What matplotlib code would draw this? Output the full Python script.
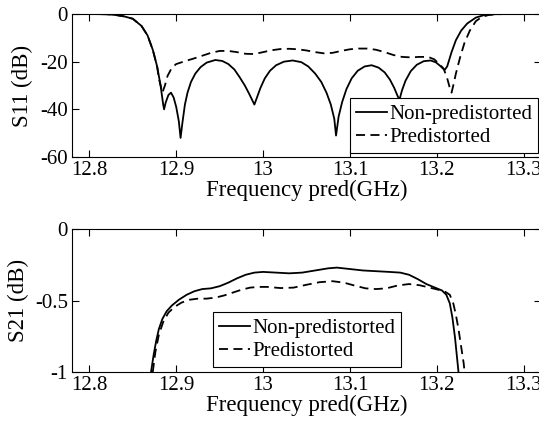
import matplotlib
matplotlib.use('Agg')
from matplotlib import pyplot as plt

plt.rcParams['font.family'] = ['Liberation Serif', 'DejaVu Serif']

# S11, non-predistorted (solid)
s11_np_freq = [12.78, 12.80, 12.82, 12.83, 12.84, 12.85, 12.86, 12.867, 12.873, 12.878,
               12.882, 12.885, 12.886, 12.888, 12.891, 12.894, 12.897, 12.900, 12.903, 12.905,
               12.907, 12.910, 12.913, 12.917, 12.922, 12.928, 12.935, 12.945, 12.953, 12.960,
               12.967, 12.973, 12.979, 12.984, 12.988, 12.990, 12.993, 12.997, 13.002, 13.008,
               13.015, 13.024, 13.034, 13.044, 13.052, 13.060, 13.067, 13.073, 13.078, 13.082,
               13.084, 13.087, 13.091, 13.096, 13.102, 13.109, 13.117, 13.125, 13.133, 13.140,
               13.146, 13.151, 13.155, 13.157, 13.160, 13.164, 13.170, 13.177, 13.185, 13.193,
               13.199, 13.204, 13.209, 13.212, 13.217, 13.222, 13.228, 13.235, 13.245, 13.255,
               13.265, 13.28, 13.33]
s11_np_db = [0, 0, -0.1, -0.4, -1, -2, -5, -9, -15, -22,
             -30, -38, -40, -37, -34, -33, -35, -39, -45, -52,
             -46, -38, -33, -28.5, -25, -22.3, -20.4, -19.3, -19.7, -21,
             -23.3, -26.5, -30, -33.5, -36.5, -38, -35, -31, -27, -23.8,
             -21.5, -20, -19.5, -20.2, -22, -25, -28.5, -33, -38, -44,
             -51, -43, -37, -31.5, -27, -23.8, -22, -21.5, -22.5, -24.5,
             -27.5, -31, -34.5, -36, -32, -28, -24, -21.3, -19.8, -19.5,
             -20.3, -21.8, -23.5, -22, -16, -11, -7, -4, -1.5, -0.4,
             -0.1, 0, 0]

# S11, predistorted (dashed)
s11_pd_freq = [12.78, 12.80, 12.82, 12.83, 12.84, 12.85, 12.86, 12.867, 12.873, 12.878,
               12.880, 12.884, 12.887, 12.890, 12.895, 12.900, 12.910, 12.920, 12.930, 12.940,
               12.950, 12.960, 12.970, 12.980, 12.990, 13.000, 13.010, 13.020, 13.030, 13.040,
               13.050, 13.060, 13.070, 13.080, 13.090, 13.100, 13.110, 13.120, 13.130, 13.140,
               13.150, 13.160, 13.170, 13.180, 13.190, 13.197, 13.203, 13.208, 13.212, 13.215,
               13.217, 13.219, 13.222, 13.227, 13.232, 13.238, 13.245, 13.252, 13.26, 13.27,
               13.28, 13.33]
s11_pd_db = [0, 0, -0.1, -0.4, -1, -2, -5, -9, -15, -22,
             -27, -33, -30, -26, -22.5, -21, -19.8, -18.7, -17.5, -16.3,
             -15.5, -15.5, -16, -16.7, -16.8, -16, -15.2, -14.7, -14.6, -14.8,
             -15.3, -16, -16.5, -16.3, -15.5, -14.8, -14.5, -14.5, -15, -16,
             -17.2, -18, -18.2, -18, -18, -19, -21, -23, -27, -31,
             -33, -30, -25, -18, -12, -7, -3, -1.2, -0.4, -0.1,
             0, 0]

# S21, non-predistorted (solid)
s21_np_freq = [12.871, 12.874, 12.877, 12.880, 12.884, 12.889, 12.895, 12.903, 12.912, 12.921,
               12.930, 12.940, 12.950, 12.960, 12.970, 12.980, 12.990, 13.000, 13.015, 13.030,
               13.045, 13.060, 13.075, 13.085, 13.100, 13.115, 13.130, 13.145, 13.158, 13.168,
               13.178, 13.188, 13.198, 13.206, 13.211, 13.215, 13.218, 13.221, 13.223, 13.225]
s21_np_db = [-1.0, -0.88, -0.78, -0.70, -0.63, -0.575, -0.535, -0.495, -0.46, -0.435,
             -0.42, -0.415, -0.40, -0.375, -0.345, -0.32, -0.305, -0.30, -0.305, -0.31,
             -0.305, -0.29, -0.275, -0.27, -0.28, -0.29, -0.295, -0.30, -0.305, -0.32,
             -0.35, -0.385, -0.41, -0.43, -0.46, -0.52, -0.62, -0.76, -0.88, -1.0]

# S21, predistorted (dashed)
s21_pd_freq = [12.873, 12.876, 12.880, 12.885, 12.891, 12.898, 12.906, 12.915, 12.925, 12.935,
               12.945, 12.955, 12.965, 12.975, 12.985, 12.995, 13.005, 13.020, 13.035, 13.050,
               13.065, 13.080, 13.093, 13.105, 13.118, 13.130, 13.142, 13.155, 13.168, 13.180,
               13.192, 13.202, 13.210, 13.215, 13.219, 13.222, 13.225, 13.228, 13.231, 13.232]
s21_pd_db = [-1.0, -0.86, -0.74, -0.65, -0.585, -0.545, -0.515, -0.495, -0.487, -0.487,
             -0.48, -0.465, -0.445, -0.425, -0.41, -0.405, -0.405, -0.413, -0.41, -0.39,
             -0.372, -0.365, -0.375, -0.395, -0.415, -0.42, -0.415, -0.395, -0.385, -0.393,
             -0.41, -0.425, -0.44, -0.46, -0.52, -0.60, -0.70, -0.82, -0.94, -1.0]

xticks = [12.8, 12.9, 13.0, 13.1, 13.2, 13.3]
xticklabels = ['12.8', '12.9', '13', '13.1', '13.2', '13.3']
legend_labels = ['Non-predistorted', 'Predistorted']

W, H = 539, 421
fig = plt.figure(figsize=(W / 100, H / 100), dpi=100)

ax1 = fig.add_axes([72 / W, 1 - 157 / H, 469 / W, 143 / H])
ax2 = fig.add_axes([72 / W, 1 - 372 / H, 469 / W, 143 / H])

dash = (5, 3)
lw = 1.3

ax1.plot(s11_np_freq, s11_np_db, color='black', lw=lw, label=legend_labels[0])
ax1.plot(s11_pd_freq, s11_pd_db, color='black', lw=lw, ls='--', dashes=dash, label=legend_labels[1])
ax1.set_ylim(-60, 0)
ax1.set_yticks([-60, -40, -20, 0])
ax1.set_yticklabels(['-60', '-40', '-20', '0'])
ax1.set_ylabel('S11 (dB)', fontsize=16.5, labelpad=5)

ax2.plot(s21_np_freq, s21_np_db, color='black', lw=lw, label=legend_labels[0])
ax2.plot(s21_pd_freq, s21_pd_db, color='black', lw=lw, ls='--', dashes=dash, label=legend_labels[1])
ax2.set_ylim(-1, 0)
ax2.set_yticks([-1, -0.5, 0])
ax2.set_yticklabels(['-1', '-0.5', '0'])
ax2.set_ylabel('S21 (dB)', fontsize=16.5, labelpad=4)

for ax in (ax1, ax2):
    ax.set_xlim(12.78, 13.32)
    ax.set_xticks(xticks)
    ax.set_xticklabels(xticklabels)
    ax.set_xlabel('Frequency pred(GHz)', fontsize=16.5, labelpad=0)
    ax.tick_params(direction='in', top=True, right=True, length=5, width=0.8,
                   labelsize=15, pad=3)
    for sp in ax.spines.values():
        sp.set_linewidth(0.8)

leg_kw = dict(fontsize=15, frameon=True, fancybox=False, shadow=False, framealpha=1,
              edgecolor='black', handlelength=1.5, handletextpad=0.1, borderpad=0.28,
              labelspacing=0.18, borderaxespad=0, bbox_transform=fig.transFigure)
leg1 = ax1.legend(loc='lower right', bbox_to_anchor=(538 / W, 1 - 153 / H), **leg_kw)
leg2 = ax2.legend(loc='lower left', bbox_to_anchor=(213 / W, 1 - 367 / H), **leg_kw)
for leg in (leg1, leg2):
    leg.get_frame().set_linewidth(0.8)

fig.savefig('out.png', dpi=100)
